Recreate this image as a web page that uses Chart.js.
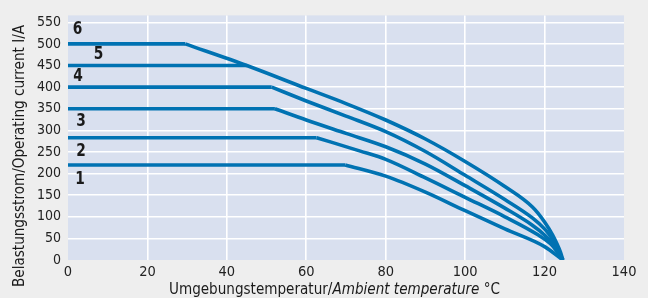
<!DOCTYPE html>
<html>
<head>
<meta charset="utf-8">
<script src="https://cdn.jsdelivr.net/npm/chart.js@4.4.0/dist/chart.umd.min.js"></script>
<style>
  html, body { margin: 0; padding: 0; background: #eeeeee; }
  #wrap { position: relative; width: 648px; height: 298px; }
</style>
</head>
<body>
<div id="wrap"><canvas id="derating"></canvas></div>
<script>
// ------------------------------------------------------------
// data (temperature in °C, current in A)
// ------------------------------------------------------------
const xTicks = [0, 20, 40, 60, 80, 100, 120, 140];
const yTicks = [0, 50, 100, 150, 200, 250, 300, 350, 400, 450, 500, 550];

// each curve: flat part up to the knee, then the derating part
const curve1T = [0, 69.8, 80, 90, 100, 110, 120, 124.6];
const curve1I = [220, 220, 194, 157, 114, 72, 31, 0];

const curve2T = [0, 62.6, 73.6, 80, 90, 100, 110, 118, 122, 124.6];
const curve2I = [283, 283, 252, 233, 190, 145, 100, 60, 33, 0];

const curve3T = [0, 52.1, 60, 70, 80, 90, 100, 110, 117, 120, 122, 124.6];
const curve3I = [350, 350, 324, 293, 262, 222, 172, 120, 80, 58, 38, 0];

const curve4T = [0, 51.3, 60, 70, 80, 90, 100, 110, 117, 120, 122, 124.6];
const curve4I = [400, 400, 368, 333, 297, 251, 196, 140, 97, 72, 48, 0];

const curve5T = [0, 45];
const curve5I = [450, 450];

const curve6T = [0, 29.5, 45, 60, 70, 80, 90, 100, 110, 117, 120, 122, 124, 124.6];
const curve6I = [500, 500, 450, 397, 362, 324, 280, 228, 170, 122, 88, 58, 18, 0];

// curve numbers and where they sit (data coordinates)
const curveNames = ['1', '2', '3', '4', '5', '6'];
const nameT = [3, 3.3, 3.3, 2.5, 7.7, 2.4];
const nameI = [186, 252, 320, 424, 476, 533];

const LINE_BLUE = '#0072b2';
const PLOT_BG = '#d9e0ef';
const TEXT = '#1a1a1a';
const FONT = "'DejaVu Sans Condensed', 'Liberation Sans', sans-serif";

function zipPoints(ts, is) {
  return ts.map((t, k) => ({ x: t, y: is[k] }));
}

function lineSet(points, smooth) {
  return {
    data: points,
    showLine: true,
    borderColor: LINE_BLUE,
    backgroundColor: LINE_BLUE,
    borderWidth: 3.6,
    pointRadius: 0,
    pointHoverRadius: 0,
    cubicInterpolationMode: smooth ? 'monotone' : 'default',
    tension: 0,
    borderJoinStyle: 'round',
    borderCapStyle: 'butt',
  };
}

// flat part (index 0..1) drawn straight, the rest smoothed
function curveSets(ts, is) {
  const pts = zipPoints(ts, is);
  const sets = [lineSet(pts.slice(0, 2), false)];
  if (pts.length > 2) sets.push(lineSet(pts.slice(1), true));
  return sets;
}

// plot background
const plotBackground = {
  id: 'plotBackground',
  beforeDraw(chart) {
    const { ctx, chartArea: a } = chart;
    ctx.save();
    ctx.fillStyle = PLOT_BG;
    ctx.fillRect(a.left, a.top, a.right - a.left, a.bottom - a.top);
    ctx.restore();
  }
};

// draw text squeezed horizontally (the original uses a condensed face)
function squeezedText(ctx, text, x, y, sx) {
  ctx.save();
  ctx.translate(x, y);
  ctx.scale(sx, 1);
  ctx.fillText(text, 0, 0);
  ctx.restore();
}

// curve numbers 1..6
const curveLabels = {
  id: 'curveLabels',
  afterDatasetsDraw(chart) {
    const { ctx, scales } = chart;
    ctx.save();
    ctx.fillStyle = TEXT;
    ctx.font = 'bold 18px ' + FONT;
    ctx.textAlign = 'center';
    ctx.textBaseline = 'middle';
    curveNames.forEach((name, k) => {
      squeezedText(ctx, name, scales.x.getPixelForValue(nameT[k]), scales.y.getPixelForValue(nameI[k]), 0.85);
    });
    ctx.restore();
  }
};

// axis titles (mixed upright / italic)
const axisTitles = {
  id: 'axisTitles',
  afterDraw(chart) {
    const { ctx } = chart;
    ctx.save();
    ctx.fillStyle = TEXT;
    ctx.textBaseline = 'alphabetic';
    ctx.textAlign = 'left';

    // x title, fitted to the span it has in the original
    const parts = [
      { text: 'Umgebungstemperatur/', font: '16px ' + FONT },
      { text: 'Ambient temperature', font: 'italic 16px ' + FONT },
      { text: ' °C', font: '16px ' + FONT },
    ];
    let total = 0;
    parts.forEach(p => { ctx.font = p.font; p.w = ctx.measureText(p.text).width; total += p.w; });
    const xStart = 169, xSpan = 331;
    const sx = xSpan / total;
    let x = xStart;
    parts.forEach(p => { ctx.font = p.font; squeezedText(ctx, p.text, x, 294, sx); x += p.w * sx; });

    // y title
    ctx.font = '16px ' + FONT;
    const yText = 'Belastungsstrom/Operating current I/A';
    const ySpan = 262;
    const sy = ySpan / ctx.measureText(yText).width;
    ctx.translate(24, 156);
    ctx.rotate(-Math.PI / 2);
    ctx.textAlign = 'center';
    squeezedText(ctx, yText, 0, 0, sy);
    ctx.restore();
  }
};

new Chart(document.getElementById('derating'), {
  type: 'scatter',
  data: {
    datasets: [
      ...curveSets(curve1T, curve1I),
      ...curveSets(curve2T, curve2I),
      ...curveSets(curve3T, curve3I),
      ...curveSets(curve4T, curve4I),
      ...curveSets(curve5T, curve5I),
      ...curveSets(curve6T, curve6I),
    ]
  },
  options: {
    responsive: true,
    maintainAspectRatio: false,
    animation: false,
    layout: { padding: { top: 11, right: 24, left: 0, bottom: 0 } },
    plugins: { legend: { display: false }, tooltip: { enabled: false } },
    scales: {
      x: {
        type: 'linear',
        min: 0, max: 140,
        afterBuildTicks: (s) => { s.ticks = xTicks.map(v => ({ value: v })); },
        afterFit: (s) => { s.height = 38; },
        border: { display: false },
        grid: {
          drawTicks: false,
          lineWidth: 1.6,
          color: (c) => (c.tick && (c.tick.value === 0 || c.tick.value === 140)) ? 'rgba(0,0,0,0)' : '#ffffff',
        },
        ticks: { padding: 4, color: '#222', autoSkip: false, maxRotation: 0, font: { family: FONT, size: 14.5 } },
      },
      y: {
        type: 'linear',
        min: 0, max: 566,
        afterBuildTicks: (s) => { s.ticks = yTicks.map(v => ({ value: v })); },
        afterFit: (s) => { s.width = 68; },
        border: { display: false },
        grid: {
          drawTicks: false,
          lineWidth: 1.6,
          color: (c) => (c.tick && c.tick.value === 0) ? 'rgba(0,0,0,0)' : '#ffffff',
        },
        ticks: { padding: 7, color: '#222', autoSkip: false, font: { family: FONT, size: 14 } },
      }
    }
  },
  plugins: [plotBackground, curveLabels, axisTitles]
});
</script>
</body>
</html>
